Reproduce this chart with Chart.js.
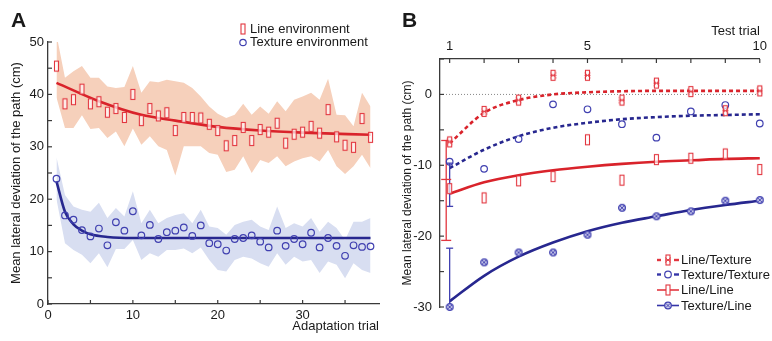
<!DOCTYPE html>
<html>
<head>
<meta charset="utf-8">
<script src="https://cdn.jsdelivr.net/npm/chart.js@4.4.1/dist/chart.umd.min.js"></script>
<style>
html,body{margin:0;padding:0;background:#fff;}
body{width:772px;height:341px;position:relative;overflow:hidden;font-family:"Liberation Sans",Arial,sans-serif;color:#1a1a1a;}
canvas{position:absolute;top:0;}
#ca{left:0;}
#cb{left:390px;}
.lab{position:absolute;font-size:13px;line-height:15px;white-space:nowrap;}
.big{position:absolute;font-size:21px;font-weight:bold;line-height:21px;}
svg{position:absolute;overflow:visible;}
</style>
</head>
<body>
<canvas id="ca" width="390" height="341"></canvas>
<canvas id="cb" width="382" height="341"></canvas>

<div class="big" style="left:11px;top:9px">A</div>
<div class="big" style="left:402px;top:9px">B</div>

<!-- legend A -->
<svg style="left:238px;top:22px" width="10" height="26">
  <rect x="3" y="2" width="4" height="10" fill="#fff" stroke="#e2363f" stroke-width="1.1"/>
  <circle cx="5" cy="20.5" r="3.2" fill="none" stroke="#4040b0" stroke-width="1.2"/>
</svg>
<div class="lab" style="left:250px;top:21px">Line environment</div>
<div class="lab" style="left:250px;top:34px">Texture environment</div>

<!-- legend B -->
<svg style="left:656px;top:253px" width="24" height="60">
  <g stroke="#e2363f" stroke-width="2.4"><line x1="1" y1="7" x2="5" y2="7"/><line x1="18" y1="7" x2="23" y2="7"/></g>
  <rect x="10" y="2" width="4" height="10" fill="#fff" stroke="#e2363f" stroke-width="1.1"/>
  <path d="M9 4.5 L15 9.5 M9 9.5 L15 4.5 M9 7 L15 7" stroke="#e2363f" stroke-width="0.9"/>
  <g stroke="#3535a8" stroke-width="2.4"><line x1="1" y1="21.5" x2="5" y2="21.5"/><line x1="18" y1="21.5" x2="23" y2="21.5"/></g>
  <circle cx="12" cy="21.5" r="3.3" fill="none" stroke="#4040b0" stroke-width="1.2"/>
  <line x1="1" y1="37" x2="23" y2="37" stroke="#e2363f" stroke-width="1.6"/>
  <rect x="10" y="32" width="4" height="10" fill="#fff" stroke="#e2363f" stroke-width="1.1"/>
  <line x1="1" y1="52.5" x2="23" y2="52.5" stroke="#3535a8" stroke-width="1.6"/>
  <circle cx="12" cy="52.5" r="3.3" fill="#c9c9ea" stroke="#4040b0" stroke-width="1.2"/>
  <path d="M10 50.5 L14 54.5 M10 54.5 L14 50.5" stroke="#4040b0" stroke-width="0.9"/>
</svg>
<div class="lab" style="left:681px;top:252px">Line/Texture</div>
<div class="lab" style="left:681px;top:267px">Texture/Texture</div>
<div class="lab" style="left:681px;top:282px">Line/Line</div>
<div class="lab" style="left:681px;top:298px">Texture/Line</div>

<script>
// ---- panel A: adaptation trials ----
const TRIALS = [1,2,3,4,5,6,7,8,9,10,11,12,13,14,15,16,17,18,19,20,21,22,23,24,25,26,27,28,29,30,31,32,33,34,35,36,37,38];
const LINE_ENV = [45.4,38.2,39.0,41.0,38.2,38.6,36.6,37.3,35.6,40.0,35.0,37.3,35.9,36.5,33.1,35.6,35.6,35.5,34.3,33.1,30.2,31.2,33.7,31.2,33.3,32.8,34.5,30.7,32.4,32.8,33.9,32.6,37.1,31.9,30.3,29.9,35.4,31.8];
const LINE_HI = [51.4,43.2,44.4,45.4,43.2,43.2,41.5,41.2,41.4,45.4,40.3,42.5,42.3,42.8,42.5,42.2,41.2,39.6,37.7,36.3,35.5,36.1,38.2,36.1,37.7,36.3,38.7,36.8,39.0,39.6,40.3,39.0,43.0,36.1,36.0,33.9,40.3,37.7];
const LINE_LO = [39.4,33.6,33.6,36.0,33.4,33.6,31.7,32.9,30.1,33.5,30.4,32.0,30.1,29.4,24.5,30.1,30.1,30.1,28.8,28.5,25.2,25.6,28.2,25.0,27.5,26.9,28.2,26.3,27.2,27.8,28.2,27.2,29.4,26.3,24.8,26.3,28.5,25.9];
const TEX_ENV = [23.9,16.9,16.1,14.1,12.9,14.4,11.2,15.6,14.0,17.7,13.1,15.1,12.4,13.7,14.0,14.6,13.0,15.0,11.6,11.4,10.2,12.4,12.6,13.1,11.9,10.8,14.0,11.1,12.4,11.4,13.6,10.8,12.6,11.1,9.2,11.2,10.9,11.0];
const TEX_HI = [28.0,20.8,18.6,18.0,17.6,19.3,16.4,18.3,16.7,21.5,15.4,18.0,15.4,16.4,17.0,17.3,15.4,18.0,14.8,14.5,13.2,15.1,15.7,16.1,14.8,14.1,18.6,14.5,15.4,14.8,16.4,13.8,15.7,14.5,12.2,15.7,15.7,16.4];
const TEX_LO = [20.0,11.6,10.3,9.4,7.8,9.7,7.0,10.5,10.5,12.2,8.4,9.7,9.0,10.3,10.3,10.6,9.7,10.8,8.4,6.5,6.2,8.4,9.0,8.7,7.8,7.1,9.7,7.5,9.0,8.1,8.4,5.9,8.1,7.5,4.9,7.8,6.5,5.9];
const LINE_FIT_X = [1,6,11,15,20,25,30,38];
const LINE_FIT = [42.2,38.7,36.1,35.0,33.8,33.1,32.7,32.3];
const TEX_FIT_X = [1,2,3,4,5,7,10,20,38];
const TEX_FIT = [23.4,17.6,15.2,14.0,13.3,12.8,12.6,12.6,12.6];
const A_XTICKS = [0,5,10,15,20,25,30,35];
const A_YTICKS = [0,5,10,15,20,25,30,35,40,45,50];

// ---- panel B: test trials ----
const TEST = [1,2,3,4,5,6,7,8,9,10];
const LT = [-6.7,-2.4,-0.8,2.7,2.7,-0.8,1.6,0.4,-2.3,0.5];
const TT = [-9.5,-10.5,-6.3,-1.4,-2.1,-4.2,-6.1,-2.4,-1.5,-4.1];
const LL = [-13.3,-14.6,-12.2,-11.6,-6.4,-12.1,-9.2,-9.0,-8.4,-10.6];
const TL = [-30.0,-23.7,-22.3,-22.3,-19.8,-16.0,-17.2,-16.5,-15.0,-14.9];
const LT_FIT = [-6.9,-2.6,-0.8,0.0,0.3,0.45,0.5,0.5,0.5,0.5];
const TT_FIT = [-10.4,-7.8,-5.9,-4.7,-4.0,-3.5,-3.2,-3.0,-2.9,-2.8];
const LL_FIT = [-14.0,-12.4,-11.4,-10.7,-10.2,-9.8,-9.5,-9.3,-9.1,-9.0];
const TL_FIT = [-29.2,-25.6,-22.9,-20.9,-19.3,-18.1,-17.2,-16.3,-15.6,-15.0];
const ERR_RED_X = [0.9,0.9,0.9], ERR_RED = [-6.5,-12.0,-20.6];
const ERR_TT_X = [1,1], ERR_TT = [-9.7,-15.8];
const ERR_TL_X = [1,1], ERR_TL = [-30.0,-21.7];
const ZERO_X = [0.72,10], ZERO_Y = [0,0];
const B_XTICKS = [1,2,3,4,5,6,7,8,9,10];
const B_XLABELS = [1,5,10];
const B_YTICKS = [-30,-25,-20,-15,-10,-5,0,5];

const FONT = '"Liberation Sans", Arial, sans-serif';
const TXT = '#1a1a1a', AXIS = '#3a3a3a';
const RED = '#d9232b', RED_M = '#e2363f';
const BLUE = '#27278f', BLUE_M = '#4040b0';
const PEACH = '#f6d0bb', LAV = '#d8def1';

const pts = (xs, ys) => xs.map((x, i) => ({x, y: ys[i]}));

function barImg(color, cross) {
  const c = document.createElement('canvas');
  c.width = 7; c.height = 13;
  const g = c.getContext('2d');
  g.fillStyle = 'rgba(255,255,255,0.7)';
  g.fillRect(1.5, 1.5, 4, 10);
  g.strokeStyle = color; g.lineWidth = 1.1;
  g.strokeRect(1.5, 1.5, 4, 10);
  if (cross) {
    g.lineWidth = 0.9;
    g.beginPath();
    g.moveTo(0.5, 4); g.lineTo(6.5, 9);
    g.moveTo(0.5, 9); g.lineTo(6.5, 4);
    g.moveTo(0.5, 6.5); g.lineTo(6.5, 6.5);
    g.stroke();
  }
  return c;
}
function ringXImg(color) {
  const c = document.createElement('canvas');
  c.width = 10; c.height = 10;
  const g = c.getContext('2d');
  g.beginPath(); g.arc(5, 5, 3.4, 0, Math.PI * 2);
  g.fillStyle = '#c9c9ea'; g.fill();
  g.strokeStyle = color; g.lineWidth = 1.2; g.stroke();
  g.lineWidth = 0.9;
  g.beginPath();
  g.moveTo(3, 3); g.lineTo(7, 7); g.moveTo(3, 7); g.lineTo(7, 3);
  g.stroke();
  return c;
}

// ticks drawn inside the plot, like the original figure
const innerTicks = {
  id: 'innerTicks',
  afterDraw(chart) {
    const ctx = chart.ctx;
    ctx.save();
    ctx.strokeStyle = AXIS; ctx.lineWidth = 1.2;
    Object.values(chart.scales).forEach(s => {
      s.ticks.forEach(t => {
        const p = s.getPixelForValue(t.value);
        ctx.beginPath();
        if (s.isHorizontal()) {
          const y0 = s.position === 'top' ? s.bottom : s.top;
          const d = s.position === 'top' ? 4 : -4;
          ctx.moveTo(p, y0); ctx.lineTo(p, y0 + d);
        } else {
          ctx.moveTo(s.right, p); ctx.lineTo(s.right + 4, p);
        }
        ctx.stroke();
      });
    });
    ctx.restore();
  }
};

const setTicks = list => s => { s.ticks = list.map(v => ({value: v})); };
const font = {size: 13, family: FONT};

function axis(extra) {
  return Object.assign({
    type: 'linear',
    grid: {display: false, drawTicks: false},
    border: {display: true, color: AXIS, width: 1.3},
  }, extra);
}

const dot = (data, color) => ({data, showLine: false, pointStyle: 'circle', pointRadius: 3.3,
  borderColor: color, pointBorderWidth: 1.2, backgroundColor: 'rgba(0,0,0,0)', clip: false, order: 0});
const img = (data, im) => ({data, showLine: false, pointStyle: im, pointRadius: 4, clip: false, order: 0});
const fit = (data, color, dash) => ({data, borderColor: color, borderWidth: 2.6, borderDash: dash || [],
  pointRadius: 0, cubicInterpolationMode: 'monotone', fill: false, clip: false, order: 1});
const band = (data, color) => ({data, borderWidth: 0, pointRadius: 0, fill: color ? '+1' : false,
  backgroundColor: color || 'rgba(0,0,0,0)', order: 2});
const errbar = (data, color, r) => ({data, borderColor: color, borderWidth: 1.3, pointStyle: 'line',
  pointRadius: r, pointBorderColor: color, pointBorderWidth: 1.3, clip: false, order: 0});

new Chart(document.getElementById('ca'), {
  type: 'line',
  data: {datasets: [
    img(pts(TRIALS, LINE_ENV), barImg(RED_M, false)),
    dot(pts(TRIALS, TEX_ENV), BLUE_M),
    fit(pts(LINE_FIT_X, LINE_FIT), RED),
    fit(pts(TEX_FIT_X, TEX_FIT), BLUE),
    band(pts(TRIALS, LINE_HI), PEACH),
    band(pts(TRIALS, LINE_LO)),
    band(pts(TRIALS, TEX_HI), LAV),
    band(pts(TRIALS, TEX_LO)),
  ]},
  options: {
    responsive: false, animation: false,
    layout: {padding: {left: 0, top: 42, right: 11, bottom: 0}},
    plugins: {legend: {display: false}, tooltip: {enabled: false}},
    scales: {
      x: axis({min: 0, max: 39, afterBuildTicks: setTicks(A_XTICKS), afterFit: s => { s.height = 37; },
        ticks: {padding: 4, color: TXT, font, maxRotation: 0, autoSkip: false, callback: v => v % 10 === 0 ? v : ''},
        title: {display: true, text: 'Adaptation trial', align: 'end', color: TXT, font, padding: {top: 0, bottom: 7}}}),
      y: axis({min: 0, max: 50, afterBuildTicks: setTicks(A_YTICKS), afterFit: s => { s.width = 48; },
        ticks: {padding: 4, color: TXT, font, autoSkip: false, callback: v => v % 10 === 0 ? v : ''},
        title: {display: true, text: 'Mean lateral deviation of the path (cm)', color: TXT, font, padding: {top: 9, bottom: 0}}})
    }
  },
  plugins: [innerTicks]
});

new Chart(document.getElementById('cb'), {
  type: 'line',
  data: {datasets: [
    img(pts(TEST, LT), barImg(RED_M, true)),
    dot(pts(TEST, TT), BLUE_M),
    img(pts(TEST, LL), barImg(RED_M, false)),
    img(pts(TEST, TL), ringXImg(BLUE_M)),
    errbar(pts(ERR_RED_X, ERR_RED), RED_M, 5),
    errbar(pts(ERR_TT_X, ERR_TT), BLUE_M, 3.5),
    errbar(pts(ERR_TL_X, ERR_TL), BLUE_M, 3.5),
    fit(pts(TEST, LT_FIT), RED, [4, 3]),
    fit(pts(TEST, TT_FIT), BLUE, [4, 3]),
    fit(pts(TEST, LL_FIT), RED),
    fit(pts(TEST, TL_FIT), BLUE),
    {data: pts(ZERO_X, ZERO_Y), borderColor: '#888', borderWidth: 1, borderDash: [1, 2], pointRadius: 0, order: 3},
  ]},
  options: {
    responsive: false, animation: false,
    layout: {padding: {left: 0, top: 0, right: 6, bottom: 34}},
    plugins: {legend: {display: false}, tooltip: {enabled: false}},
    scales: {
      x: axis({position: 'top', min: 0.72, max: 10, afterBuildTicks: setTicks(B_XTICKS), afterFit: s => { s.height = 59; },
        ticks: {padding: 5, color: TXT, font, maxRotation: 0, autoSkip: false, callback: v => B_XLABELS.includes(v) ? v : ''},
        title: {display: true, text: 'Test trial', align: 'end', color: TXT, font, padding: {top: 24, bottom: 0}}}),
      y: axis({min: -30, max: 5, afterBuildTicks: setTicks(B_YTICKS), afterFit: s => { s.width = 50; },
        ticks: {padding: 8, color: TXT, font, autoSkip: false, callback: v => v % 10 === 0 ? v : ''},
        title: {display: true, text: 'Mean lateral deviation of the path (cm)', color: TXT, font: {size: 12, family: FONT}, padding: {top: 10, bottom: 0}}})
    }
  },
  plugins: [innerTicks]
});
</script>
</body>
</html>
